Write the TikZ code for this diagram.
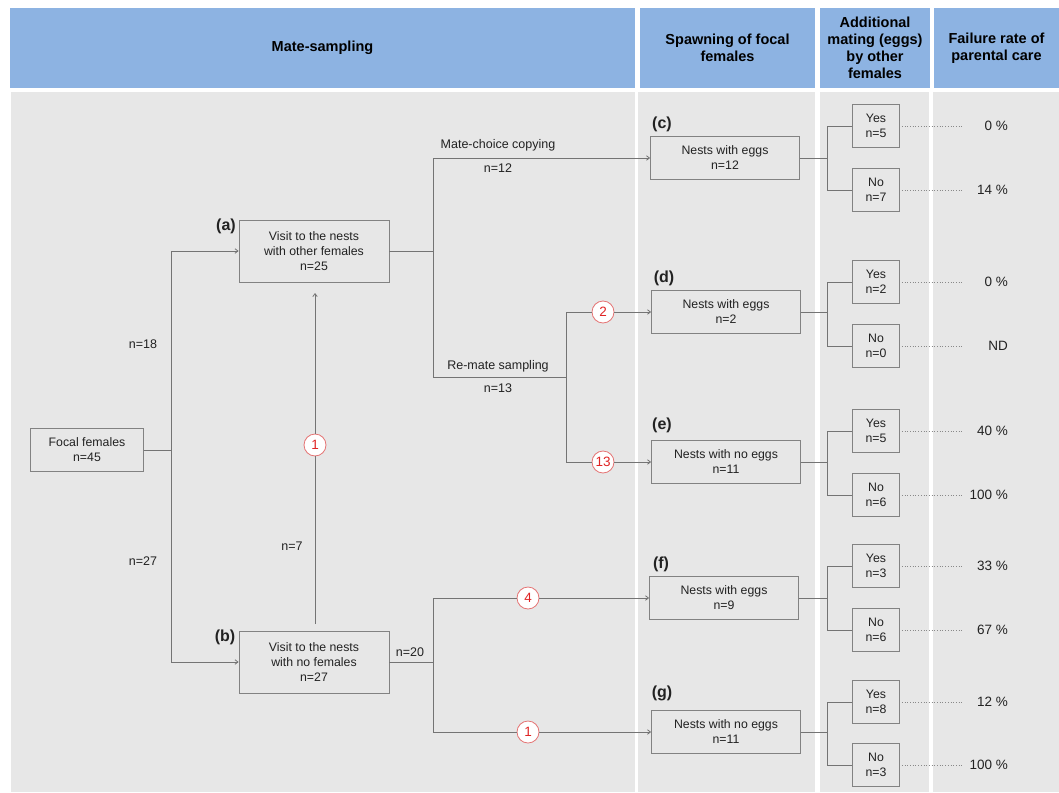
\documentclass[tikz,border=0pt]{standalone}
\usepackage{fontspec}
\setmainfont{Liberation Sans}
\usetikzlibrary{arrows.meta}
\definecolor{hdr}{HTML}{8DB3E2}
\definecolor{bg}{HTML}{E7E7E7}
\definecolor{ln}{HTML}{747474}
\definecolor{bx}{HTML}{828282}
\definecolor{circline}{HTML}{E57373}
\definecolor{circtext}{HTML}{E02424}
\definecolor{txt}{HTML}{222222}
\begin{document}
\begin{tikzpicture}[x=1pt,y=-1pt,
  hdrcell/.style={fill=hdr, inner sep=0pt, align=center, text=black,
    font=\fontsize{14.5}{16.8}\selectfont\bfseries},
  box/.style={draw=bx, fill=bg, line width=0.8pt, inner sep=0pt, align=center,
    font=\fontsize{12.3}{15}\selectfont, text=txt},
  midbox/.style={box, minimum width=149, minimum height=43},
  bigbox/.style={box, minimum width=150, minimum height=62},
  yn/.style={box, minimum width=47, minimum height=43},
  circ/.style={circle, draw=circline, fill=white, line width=0.8pt, minimum size=22,
    inner sep=0pt, text=circtext, font=\fontsize{13.5}{13.5}\selectfont},
  conn/.style={draw=ln, line width=0.8pt},
  arr/.style={conn, -{Straight Barb[length=3pt,width=4.5pt]}},
  dots/.style={draw=ln!85, dotted, line width=0.7pt},
  lbl/.style={font=\fontsize{16}{16}\selectfont\bfseries, text=txt},
  ntxt/.style={font=\fontsize{12.5}{15}\selectfont, text=txt},
  pct/.style={font=\fontsize{13.5}{15}\selectfont, text=txt, anchor=east, inner sep=0pt}]

\useasboundingbox (0,0) rectangle (1059,792);
\fill[white] (0,0) rectangle (1059,792);

% body columns
\fill[bg] (11,92) rectangle (635,792);
\fill[bg] (638,92) rectangle (815,792);
\fill[bg] (820,92) rectangle (929,792);
\fill[bg] (933,92) rectangle (1059,792);

% headers
\node[hdrcell, minimum width=625, minimum height=80] (h1) at (322.5,48) {Mate-sampling};
\node[hdrcell, minimum width=175, minimum height=80] (h2) at (727.5,48) {Spawning of focal\\females};
\node[hdrcell, minimum width=110, minimum height=80] (h3) at (875,48) {Additional\\mating (eggs)\\by other\\females};
\node[hdrcell, minimum width=125, minimum height=80] (h4) at (996.5,48) {Failure rate of\\parental care};

% main boxes
\node[box, minimum width=113, minimum height=43] (foc) at (87,450) {Focal females\\n=45};
\node[bigbox] (a) at (314,251) {Visit to the nests\\with other females\\n=25};
\node[bigbox] (b) at (314,662) {Visit to the nests\\with no females\\n=27};
\node[lbl] (la) at (226,226) {(a)};
\node[lbl] (lb) at (225,637) {(b)};

\node[midbox] (c) at (725,158) {Nests with eggs\\n=12};
\node[midbox] (d) at (726,312) {Nests with eggs\\n=2};
\node[midbox] (e) at (726,462) {Nests with no eggs\\n=11};
\node[midbox] (f) at (724,598) {Nests with eggs\\n=9};
\node[midbox] (g) at (726,732) {Nests with no eggs\\n=11};
\node[lbl] (lc) at (662,124) {(c)};
\node[lbl] (ld) at (664,278) {(d)};
\node[lbl] (le) at (662,425) {(e)};
\node[lbl] (lf) at (661,564) {(f)};
\node[lbl] (lg) at (662,693) {(g)};

% focal -> a, b
\coordinate (j0) at (171,450);
\draw[conn] (foc.east) -- (j0);
\draw[arr] (j0) |- (a.west);
\draw[arr] (j0) |- (b.west);
\node[ntxt] (n18) at (143,344) {n=18};
\node[ntxt] (n27) at (143,561) {n=27};

% b -> a
\node[circ] (c1) at (315,445) {1};
\coordinate (bup) at (315,624);
\coordinate (adn) at (315,293);
\draw[conn] (bup) -- (c1);
\draw[arr] (c1) -- (adn);
\node[ntxt] (n7) at (292,546) {n=7};

% a -> c, d, e
\coordinate (j1) at (433,251);
\coordinate (j1t) at (433,158);
\coordinate (j1b) at (433,377);
\draw[conn] (a.east) -- (j1);
\draw[conn] (j1t) -- (j1b);
\draw[arr] (j1t) -- (c.west);
\node[ntxt] (mcc) at (498,145) {Mate-choice copying};
\node[ntxt] (n12) at (498,168) {n=12};
\coordinate (j2) at (566,377);
\draw[conn] (j1b) -- (j2);
\node[ntxt] (rms) at (498,366) {Re-mate sampling};
\node[ntxt] (n13) at (498,388) {n=13};
\coordinate (j2t) at (566,312);
\coordinate (j2b) at (566,462);
\draw[conn] (j2t) -- (j2b);
\node[circ] (c2) at (603,312) {2};
\node[circ] (c13) at (603,462) {13};
\draw[conn] (j2t) -- (c2);
\draw[arr] (c2) -- (d.west);
\draw[conn] (j2b) -- (c13);
\draw[arr] (c13) -- (e.west);

% b -> f, g
\coordinate (j3) at (433,662);
\coordinate (j3t) at (433,598);
\coordinate (j3b) at (433,732);
\draw[conn] (b.east) -- (j3);
\draw[conn] (j3t) -- (j3b);
\node[ntxt] (n20) at (410,652) {n=20};
\node[circ] (c4) at (528,598) {4};
\node[circ] (c1b) at (528,732) {1};
\draw[conn] (j3t) -- (c4);
\draw[arr] (c4) -- (f.west);
\draw[conn] (j3b) -- (c1b);
\draw[arr] (c1b) -- (g.west);

% yes / no branches
\coordinate (xk) at (827,0);
\coordinate (xd) at (962,0);
\foreach \n/\ya/\yb/\ny/\nn/\pa/\pb in {
  c/126/190/5/7/0 \%/14 \%,
  d/282/346/2/0/0 \%/ND,
  e/431/495/5/6/40 \%/100 \%,
  f/566/630/3/6/33 \%/67 \%,
  g/702/765/8/3/12 \%/100 \%}{
  \node[yn] (yes\n) at (876,\ya) {Yes\\n=\ny};
  \node[yn] (no\n) at (876,\yb) {No\\n=\nn};
  \coordinate (k\n) at (\n.east -| xk);
  \draw[conn] (\n.east) -- (k\n);
  \draw[conn] (yes\n.west) -| (k\n) |- (no\n.west);
  \draw[dots] ([xshift=2pt]yes\n.east) -- (yes\n.east -| xd);
  \draw[dots] ([xshift=2pt]no\n.east) -- (no\n.east -| xd);
  \node[pct] (pa\n) at (1008,\ya) {\pa};
  \node[pct] (pb\n) at (1008,\yb) {\pb};
}
\end{tikzpicture}
\end{document}
